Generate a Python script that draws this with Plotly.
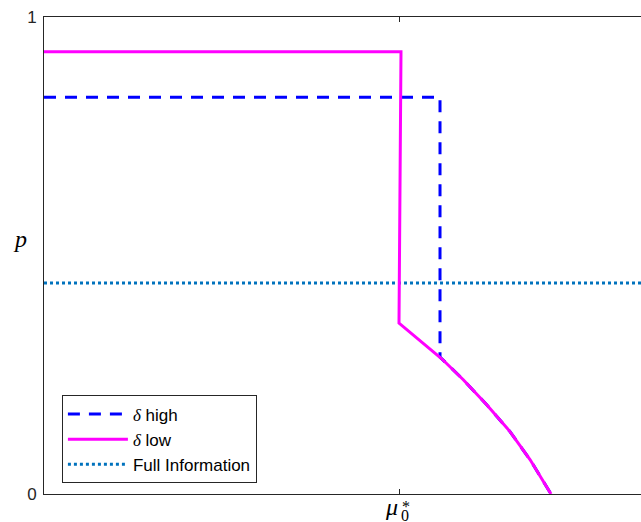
import plotly.graph_objects as go

# Data (x in units where mu0* = 0.5)
mu_star = 0.5
x_max = 0.8385

low_x = [0.0, 0.5014, 0.4986, 0.5281, 0.5586, 0.5889, 0.6218, 0.6545, 0.6826, 0.7121]
low_y = [0.927, 0.927, 0.3582, 0.3211, 0.2835, 0.2395, 0.1872, 0.1308, 0.0722, 0.0]

high_x = [0.0, 0.5562, 0.5562, 0.5586, 0.5889, 0.6218, 0.6545, 0.6826, 0.7121]
high_y = [0.8316, 0.8316, 0.287, 0.2835, 0.2395, 0.1872, 0.1308, 0.0722, 0.0]

full_x = [0.0, x_max]
full_y = [0.4425, 0.4425]

y_tick_vals = [0, 1]
y_tick_text = ["0", "1"]

serif = "Liberation Serif"
sans = "Liberation Sans"

fig = go.Figure()
fig.add_trace(go.Scatter(
    x=high_x, y=high_y, mode="lines", legendgroup="a", legendrank=1,
    name=f"<span style='font-family:{serif}'><i>δ</i></span> high",
    line=dict(color="#0000FF", width=3, dash="12px,9px"),
))
fig.add_trace(go.Scatter(
    x=full_x, y=full_y, mode="lines", legendgroup="c", legendrank=3,
    name="Full Information",
    line=dict(color="#0072BD", width=3, dash="3px,3px"),
))
fig.add_trace(go.Scatter(
    x=low_x, y=low_y, mode="lines", legendgroup="b", legendrank=2,
    name=f"<span style='font-family:{serif}'><i>δ</i></span> low",
    line=dict(color="#FF00FF", width=3),
))

fig.update_layout(
    width=641, height=522,
    margin=dict(l=44, r=0, t=17, b=28, autoexpand=False),
    plot_bgcolor="white", paper_bgcolor="white",
    font=dict(family=sans, size=15, color="#262626"),
    showlegend=True,
    legend=dict(
        x=0.030, y=0.1143, xanchor="left", yanchor="middle",
        bordercolor="#262626", borderwidth=1, bgcolor="white",
        font=dict(family=sans, size=17, color="#000000"),
        traceorder="normal", tracegroupgap=4, itemwidth=60,
    ),
    xaxis=dict(
        range=[0, x_max], showgrid=False, zeroline=False, automargin=False,
        showline=True, linecolor="#262626", linewidth=1, mirror="ticks",
        ticks="inside", ticklen=5, tickcolor="#262626",
        tickvals=[mu_star], ticktext=[""],
    ),
    yaxis=dict(
        range=[0, 1], showgrid=False, zeroline=False, automargin=False,
        showline=True, linecolor="#262626", linewidth=1, mirror=False,
        ticks="inside", ticklen=5, tickcolor="#262626",
        tickvals=y_tick_vals, ticktext=y_tick_text,
        tickfont=dict(family=sans, size=17, color="#262626"),
        ticklabelstandoff=3,
    ),
    annotations=[
        dict(text="<i>p</i>", xref="paper", yref="paper",
             x=-0.041, y=0.535, xanchor="center", yanchor="middle",
             showarrow=False, font=dict(family=serif, size=24, color="#000000")),
        dict(text="<i>μ</i>", xref="x", yref="paper",
             x=mu_star, y=0, xanchor="center", yanchor="top", xshift=-8, yshift=2,
             showarrow=False, font=dict(family=serif, size=24, color="#000000")),
        dict(text="0", xref="x", yref="paper",
             x=mu_star, y=0, xanchor="left", yanchor="top", xshift=-1, yshift=-11,
             showarrow=False, font=dict(family=serif, size=16, color="#000000")),
        dict(text="*", xref="x", yref="paper",
             x=mu_star, y=0, xanchor="left", yanchor="top", xshift=0, yshift=-2,
             showarrow=False, font=dict(family=serif, size=16, color="#000000")),
    ],
)

fig.write_html(
    "out.html",
    config={"responsive": False, "displayModeBar": False},
    post_script="document.body.style.margin='0';document.body.style.overflow='hidden';",
)
